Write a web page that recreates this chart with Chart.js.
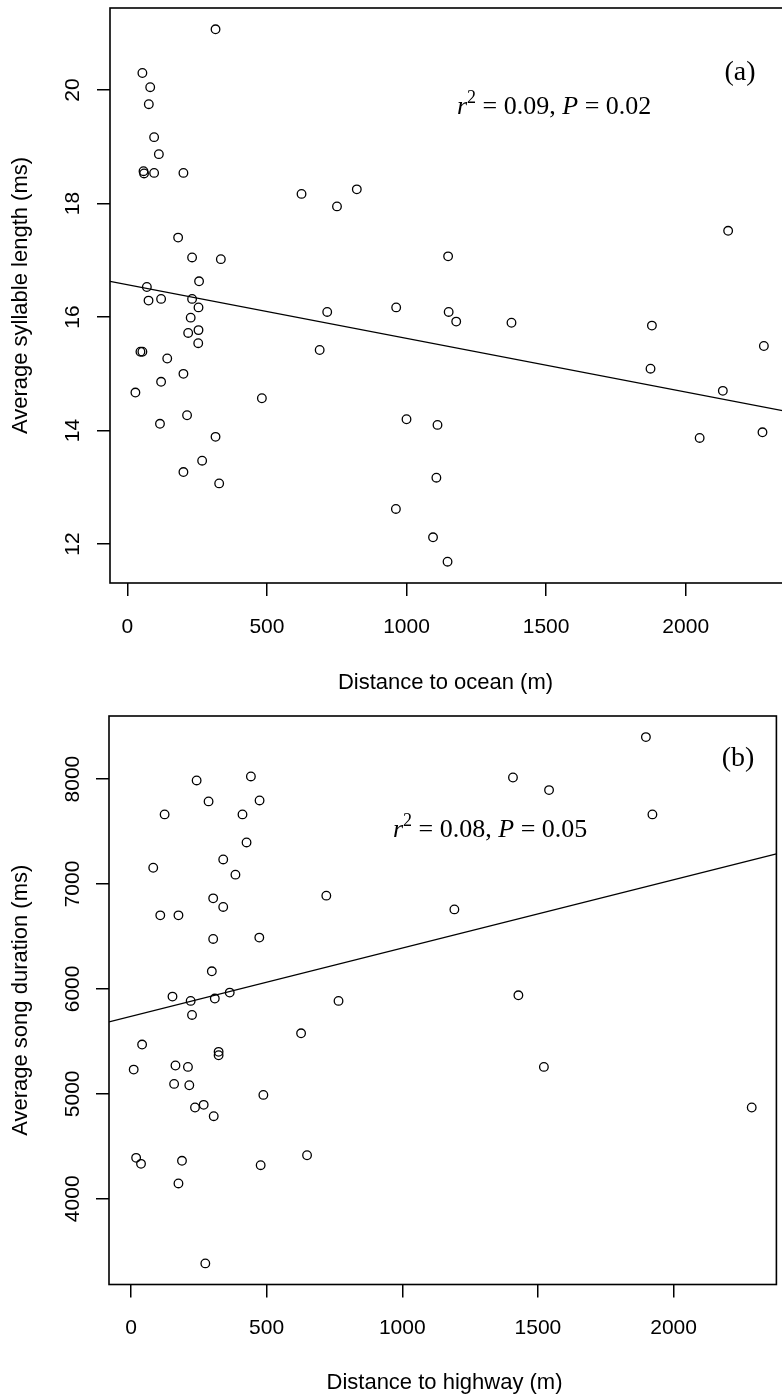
<!DOCTYPE html>
<html><head><meta charset="utf-8">
<script src="https://cdn.jsdelivr.net/npm/chart.js@4.4.1/dist/chart.umd.min.js"></script>
<style>
html,body{margin:0;padding:0;background:#fff;overflow:hidden;}
#wrap{position:relative;width:782px;height:1398px;overflow:hidden;}
canvas{position:absolute;left:0;}
</style></head><body>
<div id="wrap">
<canvas id="ca" width="800" height="700" style="top:0;width:800px;height:700px"></canvas>
<canvas id="cb" width="782" height="698" style="top:700px;width:782px;height:698px"></canvas>
</div>
<script>
// ---- Panel (a): distance to ocean vs average syllable length ----
const oceanDist = [316,54,82,77,96,113,58,60,96,201,624,751,822,182,232,335,257,70,76,121,232,255,227,716,963,218,255,254,47,54,143,689,201,121,29,482,214,117,316,268,201,329,962,1151,1178,1376,1879,2280,1874,2133,1000,1111,2050,2275,1107,1095,1147,2152,1149];
const syllableLen = [21.07,20.30,20.05,19.75,19.17,18.87,18.57,18.53,18.54,18.54,18.17,17.95,18.25,17.40,17.05,17.02,16.63,16.53,16.29,16.32,16.32,16.17,15.99,16.09,16.17,15.72,15.77,15.54,15.39,15.39,15.27,15.42,15.00,14.86,14.67,14.57,14.27,14.12,13.89,13.47,13.27,13.07,12.62,16.09,15.92,15.90,15.85,15.49,15.09,14.70,14.20,14.10,13.87,13.97,13.17,12.12,11.69,17.52,17.07];
const xTicksA = [0,500,1000,1500,2000];
const yTicksA = [12,14,16,18,20];
const fitLineAX = [-62, 2370];
const fitLineAY = [16.63, 14.33];

// ---- Panel (b): distance to highway vs average song duration ----
const highwayDist = [242,442,286,474,124,411,426,340,82,385,720,303,340,108,175,303,473,298,1898,1408,1541,1922,1192,153,220,309,364,225,765,41,627,323,323,164,210,10,159,215,488,236,268,305,19,37,188,478,649,175,274,1428,1522,2288];
const songDur = [7987,8025,7787,7796,7663,7663,7396,7234,7155,7089,6889,6863,6781,6701,6701,6476,6489,6168,8400,8015,7895,7663,6758,5927,5886,5908,5965,5752,5886,5470,5577,5400,5368,5270,5257,5231,5095,5082,4990,4870,4895,4787,4390,4333,4362,4320,4415,4146,3384,5939,5257,4870];
const xTicksB = [0,500,1000,1500,2000];
const yTicksB = [4000,5000,6000,7000,8000];
const fitLineBX = [-81, 2379];
const fitLineBY = [5685, 7287];

const SANS = "'Liberation Sans', Arial, Helvetica, sans-serif";
const SERIF = "'Liberation Serif', 'Times New Roman', serif";

function makePlugin(cfg) {
  return {
    id: 'rstyle',
    afterDraw(chart) {
      const ctx = chart.ctx;
      const a = chart.chartArea;
      const xs = chart.scales.x, ys = chart.scales.y;
      ctx.save();
      // frame
      ctx.strokeStyle = '#000';
      ctx.lineWidth = 1.6;
      ctx.strokeRect(a.left, a.top, a.right - a.left, a.bottom - a.top);
      ctx.fillStyle = '#000';
      // x tick labels
      ctx.font = '21px ' + SANS;
      ctx.textAlign = 'center';
      ctx.textBaseline = 'middle';
      cfg.xTicks.forEach(v => {
        ctx.fillText(String(v), xs.getPixelForValue(v), cfg.xLabelY);
      });
      // y tick labels (rotated)
      cfg.yTicks.forEach(v => {
        ctx.save();
        ctx.translate(cfg.yLabelX, ys.getPixelForValue(v));
        ctx.rotate(-Math.PI / 2);
        ctx.fillText(String(v), 0, 0);
        ctx.restore();
      });
      // axis titles
      ctx.font = '22px ' + SANS;
      ctx.fillText(cfg.xTitle, (a.left + cfg.visRight) / 2, cfg.xTitleY);
      ctx.save();
      ctx.translate(cfg.yTitleX, (a.top + a.bottom) / 2);
      ctx.rotate(-Math.PI / 2);
      ctx.fillText(cfg.yTitle, 0, 0);
      ctx.restore();
      // panel letter
      ctx.font = '28px ' + SERIF;
      ctx.textAlign = 'center';
      ctx.textBaseline = 'alphabetic';
      ctx.fillText(cfg.letter, cfg.letterX, cfg.letterY);
      // statistic annotation
      const fs = 26;
      let x = cfg.statX; const by = cfg.statY;
      ctx.textAlign = 'left';
      ctx.font = 'italic ' + fs + 'px ' + SERIF;
      ctx.fillText('r', x, by); x += ctx.measureText('r').width;
      ctx.font = Math.round(fs * 0.68) + 'px ' + SERIF;
      ctx.fillText('2', x, by - fs * 0.42); x += ctx.measureText('2').width;
      ctx.font = fs + 'px ' + SERIF;
      const s1 = ' = ' + cfg.r2 + ', ';
      ctx.fillText(s1, x, by); x += ctx.measureText(s1).width;
      ctx.font = 'italic ' + fs + 'px ' + SERIF;
      ctx.fillText('P', x, by); x += ctx.measureText('P').width;
      ctx.font = fs + 'px ' + SERIF;
      ctx.fillText(' = ' + cfg.p, x, by);
      ctx.restore();
    }
  };
}

function makeChart(id, xv, yv, lx, ly, xr, yr, xTicks, yTicks, layout, plugCfg) {
  const pts = xv.map((x, i) => ({x: x, y: yv[i]}));
  const line = lx.map((x, i) => ({x: x, y: ly[i]}));
  return new Chart(document.getElementById(id), {
    type: 'scatter',
    data: {datasets: [
      {data: pts, pointStyle: 'circle', pointRadius: 4.3, pointBorderWidth: 1.3,
       borderColor: '#000', backgroundColor: 'rgba(0,0,0,0)', showLine: false},
      {data: line, showLine: true, pointRadius: 0, borderColor: '#000', borderWidth: 1.3, fill: false}
    ]},
    options: {
      responsive: false, animation: false, devicePixelRatio: 1,
      layout: {padding: layout.padding},
      plugins: {legend: {display: false}, tooltip: {enabled: false}},
      scales: {
        x: {type: 'linear', min: xr[0], max: xr[1],
            afterBuildTicks: s => { s.ticks = xTicks.map(v => ({value: v})); },
            afterFit: s => { s.height = layout.xH; },
            ticks: {display: false},
            border: {display: false},
            grid: {drawOnChartArea: false, drawTicks: true, tickLength: 13, color: '#000', lineWidth: 1.5}},
        y: {type: 'linear', min: yr[0], max: yr[1],
            afterBuildTicks: s => { s.ticks = yTicks.map(v => ({value: v})); },
            afterFit: s => { s.width = layout.yW; },
            ticks: {display: false},
            border: {display: false},
            grid: {drawOnChartArea: false, drawTicks: true, tickLength: 13, color: '#000', lineWidth: 1.5}}
      }
    },
    plugins: [makePlugin(plugCfg)]
  });
}

makeChart('ca', oceanDist, syllableLen, fitLineAX, fitLineAY, [-62, 2370], [11.315, 21.445], xTicksA, yTicksA,
  {padding: {top: 8, right: 11, left: 0, bottom: 0}, xH: 117, yW: 110},
  {xTicks: xTicksA, yTicks: yTicksA, xLabelY: 627, yLabelX: 73.5, xTitle: 'Distance to ocean (m)', xTitleY: 683,
   yTitle: 'Average syllable length (ms)', yTitleX: 21, visRight: 781, letter: '(a)', letterX: 740, letterY: 80,
   statX: 457, statY: 114, r2: '0.09', p: '0.02'});

makeChart('cb', highwayDist, songDur, fitLineBX, fitLineBY, [-81, 2379], [3183, 8601], xTicksB, yTicksB,
  {padding: {top: 16, right: 2, left: 0, bottom: 0}, xH: 113.5, yW: 109},
  {xTicks: xTicksB, yTicks: yTicksB, xLabelY: 628, yLabelX: 73.5, xTitle: 'Distance to highway (m)', xTitleY: 683,
   yTitle: 'Average song duration (ms)', yTitleX: 21, visRight: 780, letter: '(b)', letterX: 738, letterY: 66,
   statX: 393, statY: 137, r2: '0.08', p: '0.05'});
</script>
</body></html>
